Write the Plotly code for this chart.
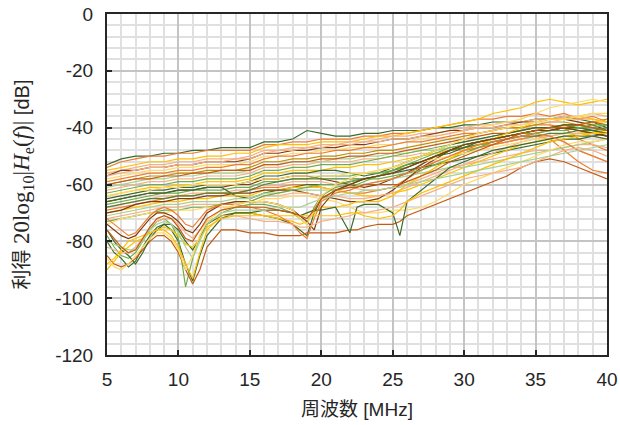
import plotly.graph_objects as go

FREQ = list(range(5, 41))
FREQ_L = [5, 5.5, 6, 6.5, 7, 7.5, 8, 8.5, 9, 9.5, 10, 10.5, 11, 11.5, 12, 13, 14, 15, 16, 17, 18,
          18.5, 19, 19.5, 20, 21, 22, 22.5, 23, 24, 25, 25.5, 26, 27, 28, 29, 30, 31, 32, 33, 34,
          35, 36, 37, 38, 39, 40]

X_TICKS = [5, 10, 15, 20, 25, 30, 35, 40]
Y_TICKS = [0, -20, -40, -60, -80, -100, -120]
Y_TICK_TEXT = ["0", "-20", "-40", "-60", "-80", "-100", "-120"]

# upper band
U1 = [-53,-51,-50,-50,-49,-49,-48,-48,-47,-47,-47,-45,-45,-44,-41,-42,-43,-43,-42,-42,-41,-41,-41,-40,-40,-39,-39,-38,-38,-38,-37,-37,-36,-37,-38,-40]
U2 = [-54,-52,-51,-50,-50,-49,-49,-48,-48,-48,-48,-46,-46,-45,-45,-44,-44,-44,-43,-43,-42,-42,-41,-40,-39,-38,-37,-37,-36,-36,-35,-36,-35,-37,-36,-38]
U3 = [-55,-54,-53,-52,-52,-51,-51,-50,-50,-49,-49,-47,-46,-46,-46,-45,-45,-45,-44,-43,-43,-42,-41,-40,-39,-38,-37,-35,-34,-33,-31,-30,-31,-32,-31,-30]
U4 = [-56,-55,-54,-53,-53,-52,-52,-51,-51,-51,-50,-48,-48,-47,-47,-46,-46,-45,-45,-44,-43,-43,-42,-42,-41,-40,-39,-39,-38,-38,-37,-37,-36,-36,-35,-36]
U5 = [-57,-55,-55,-54,-54,-53,-53,-52,-52,-52,-51,-49,-49,-48,-48,-47,-47,-46,-46,-45,-44,-44,-43,-42,-41,-41,-40,-40,-39,-38,-38,-37,-37,-38,-39,-41]
U6 = [-58,-57,-56,-55,-55,-54,-54,-53,-53,-53,-52,-50,-50,-49,-49,-48,-48,-47,-47,-46,-46,-45,-44,-43,-42,-41,-40,-39,-38,-37,-35,-33,-32,-31,-30,-31]
U7 = [-59,-58,-57,-56,-56,-55,-55,-54,-54,-53,-53,-51,-50,-50,-49,-49,-48,-48,-47,-47,-46,-45,-45,-44,-43,-42,-42,-41,-40,-40,-39,-39,-40,-44,-46,-48]
U8 = [-60,-59,-58,-57,-57,-56,-56,-55,-55,-55,-54,-52,-52,-51,-51,-50,-50,-49,-49,-48,-48,-47,-46,-45,-44,-43,-42,-41,-40,-40,-39,-38,-38,-39,-38,-37]
U9 = [-61,-60,-59,-58,-58,-57,-57,-56,-56,-56,-55,-53,-53,-52,-52,-52,-51,-51,-50,-50,-49,-49,-48,-48,-47,-47,-46,-46,-45,-44,-43,-43,-42,-42,-41,-41]
U10 = [-62,-61,-60,-59,-59,-58,-58,-57,-57,-57,-56,-54,-54,-53,-53,-52,-52,-52,-51,-51,-50,-50,-49,-49,-48,-48,-47,-46,-45,-44,-43,-43,-45,-48,-50,-52]
U11 = [-63,-62,-61,-60,-60,-59,-59,-58,-58,-58,-57,-55,-55,-54,-54,-53,-53,-53,-52,-51,-50,-49,-48,-47,-46,-45,-44,-43,-42,-41,-40,-40,-39,-40,-40,-41]
U12 = [-64,-63,-62,-61,-61,-60,-60,-59,-59,-59,-58,-56,-56,-55,-55,-55,-54,-54,-53,-53,-52,-51,-50,-49,-48,-46,-45,-44,-43,-42,-41,-40,-39,-39,-38,-38]
U13 = [-57,-56,-55,-54,-54,-53,-53,-52,-52,-51,-51,-49,-48,-48,-47,-47,-46,-46,-45,-45,-44,-44,-43,-43,-42,-41,-40,-40,-39,-39,-38,-38,-37,-37,-37,-38]
U14 = [-60,-59,-58,-58,-57,-57,-56,-56,-55,-55,-55,-53,-53,-52,-52,-51,-51,-50,-50,-49,-49,-48,-47,-46,-45,-44,-43,-42,-42,-41,-40,-40,-39,-39,-38,-39]

# middle band
M1 = [-65,-64,-63,-62,-62,-61,-61,-60,-60,-60,-59,-57,-57,-56,-56,-55,-55,-56,-57,-56,-54,-52,-50,-48,-46,-45,-44,-43,-42,-41,-40,-40,-39,-39,-40,-41]
M2 = [-66,-65,-64,-63,-63,-62,-62,-61,-61,-60,-60,-58,-58,-57,-57,-58,-59,-60,-61,-60,-58,-56,-53,-50,-48,-46,-45,-44,-43,-42,-41,-41,-40,-40,-41,-42]
M3 = [-67,-66,-65,-64,-63,-63,-62,-62,-62,-61,-61,-59,-59,-58,-58,-57,-57,-57,-56,-56,-55,-54,-52,-50,-48,-47,-46,-45,-44,-43,-42,-41,-41,-40,-40,-39]
M4 = [-68,-67,-66,-65,-64,-64,-63,-63,-63,-62,-62,-60,-60,-59,-59,-59,-60,-61,-62,-62,-61,-60,-58,-56,-54,-53,-52,-51,-50,-49,-48,-48,-47,-46,-46,-47]
M5 = [-69,-68,-67,-66,-65,-64,-64,-63,-63,-63,-62,-61,-61,-60,-60,-61,-62,-63,-63,-62,-61,-58,-55,-52,-50,-48,-47,-46,-45,-44,-43,-44,-48,-52,-55,-56]
M6 = [-66,-65,-64,-63,-63,-62,-62,-61,-61,-64,-65,-63,-62,-61,-60,-60,-60,-59,-58,-57,-56,-55,-54,-53,-52,-51,-50,-49,-48,-47,-46,-45,-44,-44,-43,-42]
M7 = [-70,-69,-68,-67,-66,-66,-65,-65,-64,-64,-64,-62,-62,-61,-61,-61,-62,-63,-64,-64,-63,-62,-60,-58,-56,-54,-52,-50,-48,-46,-45,-44,-43,-42,-42,-41]
M8 = [-71,-70,-69,-68,-67,-67,-66,-66,-66,-65,-65,-63,-63,-62,-62,-62,-62,-61,-60,-59,-58,-57,-56,-55,-54,-54,-53,-52,-51,-50,-49,-48,-47,-46,-45,-44]
M9 = [-70,-69,-67,-66,-66,-65,-65,-64,-64,-63,-63,-62,-62,-62,-63,-64,-65,-66,-66,-65,-62,-58,-54,-51,-48,-46,-45,-44,-43,-42,-41,-41,-40,-41,-42,-43]
M10 = [-72,-71,-70,-69,-68,-68,-67,-67,-67,-66,-66,-64,-64,-63,-63,-64,-64,-65,-65,-64,-63,-61,-59,-57,-55,-53,-51,-49,-47,-45,-44,-43,-42,-42,-43,-44]
M11 = [-73,-72,-71,-70,-69,-69,-68,-68,-67,-67,-66,-64,-63,-62,-61,-60,-60,-59,-58,-58,-57,-56,-55,-53,-51,-49,-47,-45,-44,-43,-42,-41,-41,-40,-39,-39]
M12 = [-74,-72,-71,-70,-70,-69,-69,-68,-68,-68,-67,-65,-65,-64,-64,-65,-66,-68,-70,-70,-69,-69,-68,-66,-63,-60,-58,-56,-54,-52,-50,-48,-46,-45,-45,-44]
M13 = [-64,-63,-62,-62,-61,-61,-60,-60,-60,-60,-59,-58,-58,-57,-57,-57,-57,-56,-56,-55,-54,-53,-52,-51,-50,-49,-48,-47,-46,-45,-44,-44,-43,-43,-42,-42]
M14 = [-68,-67,-66,-65,-65,-64,-64,-63,-63,-63,-62,-60,-59,-58,-58,-58,-58,-58,-58,-57,-56,-54,-52,-50,-48,-47,-46,-45,-44,-43,-43,-42,-42,-41,-41,-40]

# lower band (finer frequency grid)
L1 = [-80,-84,-86,-89,-87,-82,-78,-75,-74,-76,-80,-88,-94,-85,-78,-72,-70,-70,-71,-72,-74,-76,-78,-70,-65,-62,-60,-59,-58,-57,-55,-54,-53,-52,-50,-49,-47,-45,-44,-43,-42,-41,-41,-40,-40,-41,-42]
L2 = [-78,-82,-85,-86,-84,-80,-76,-73,-72,-74,-79,-96,-86,-78,-74,-70,-68,-67,-67,-68,-70,-72,-74,-68,-64,-61,-60,-60,-59,-57,-55,-54,-53,-51,-49,-47,-46,-45,-44,-43,-42,-42,-41,-41,-40,-40,-41]
L3 = [-85,-88,-89,-88,-86,-83,-80,-78,-78,-80,-84,-90,-95,-90,-82,-76,-76,-77,-77,-78,-78,-78,-77,-77,-77,-77,-76,-76,-75,-74,-74,-73,-71,-69,-67,-65,-63,-61,-59,-57,-54,-52,-51,-52,-54,-56,-58]
L4 = [-90,-87,-84,-82,-80,-79,-77,-76,-76,-78,-82,-88,-93,-84,-76,-71,-70,-70,-71,-72,-73,-74,-73,-70,-68,-68,-67,-66,-66,-66,-64,-62,-60,-57,-54,-51,-48,-46,-44,-42,-40,-38,-37,-37,-36,-37,-38]
L5 = [-76,-80,-83,-85,-88,-84,-79,-76,-74,-74,-76,-80,-83,-79,-74,-71,-70,-70,-69,-69,-70,-71,-70,-69,-69,-68,-77,-68,-67,-67,-70,-78,-66,-62,-58,-54,-52,-50,-48,-47,-46,-45,-44,-43,-43,-43,-44]
L6 = [-74,-76,-78,-79,-78,-75,-72,-70,-70,-71,-73,-76,-77,-74,-70,-67,-66,-66,-66,-67,-69,-71,-73,-76,-68,-62,-60,-59,-58,-57,-56,-55,-54,-52,-50,-48,-46,-45,-44,-43,-42,-41,-41,-40,-41,-42,-43]
L7 = [-72,-74,-76,-78,-77,-74,-71,-69,-68,-69,-71,-74,-75,-72,-69,-67,-67,-68,-69,-71,-74,-77,-79,-72,-66,-63,-62,-61,-60,-59,-58,-57,-56,-54,-52,-50,-48,-46,-45,-44,-43,-42,-43,-45,-48,-50,-52]
L8 = [-82,-83,-84,-84,-82,-79,-75,-73,-72,-72,-74,-77,-79,-76,-73,-71,-71,-72,-73,-73,-74,-75,-75,-74,-73,-72,-71,-70,-70,-69,-68,-67,-66,-64,-62,-60,-58,-57,-56,-55,-54,-52,-50,-48,-47,-48,-50]
L9 = [-88,-86,-83,-80,-79,-78,-77,-76,-75,-76,-78,-81,-82,-79,-75,-72,-71,-71,-71,-71,-71,-71,-71,-71,-71,-71,-70,-70,-71,-72,-71,-69,-66,-63,-61,-59,-57,-55,-53,-51,-49,-47,-45,-44,-43,-42,-42]
L10 = [-80,-81,-82,-83,-83,-80,-76,-74,-73,-74,-77,-82,-86,-80,-74,-70,-69,-69,-69,-68,-68,-68,-67,-66,-65,-64,-63,-63,-62,-62,-61,-61,-60,-59,-58,-57,-56,-55,-54,-53,-52,-51,-50,-49,-48,-47,-46]
L11 = [-86,-89,-90,-88,-85,-82,-79,-77,-77,-79,-83,-90,-85,-78,-73,-69,-67,-66,-66,-67,-69,-72,-74,-69,-64,-60,-58,-57,-56,-55,-54,-53,-52,-50,-48,-46,-44,-42,-41,-40,-39,-38,-37,-37,-36,-35,-35]
L12 = [-76,-79,-82,-84,-83,-79,-75,-72,-71,-72,-75,-79,-80,-76,-72,-69,-68,-68,-68,-69,-70,-71,-72,-69,-65,-62,-61,-61,-60,-60,-60,-60,-59,-57,-55,-52,-50,-48,-46,-44,-42,-41,-40,-40,-39,-40,-41]

DKGREEN = "#3d6b2a"
GREEN = "#70ad47"
LTGREEN = "#a9d18e"
ORANGE = "#ed7d31"
DKORANGE = "#c55a11"
BROWN = "#843c0c"
LTORANGE = "#f4b183"
GOLD = "#ffc000"
LTGOLD = "#ffd966"
DKGOLD = "#bf9000"

series = [
    (FREQ, U1, DKGREEN), (FREQ, U2, ORANGE), (FREQ, U3, GOLD), (FREQ, U4, LTORANGE),
    (FREQ, U5, BROWN), (FREQ, U6, LTGOLD), (FREQ, U7, ORANGE), (FREQ, U8, DKGOLD),
    (FREQ, U9, LTGREEN), (FREQ, U10, LTORANGE), (FREQ, U11, GREEN), (FREQ, U12, GOLD),
    (FREQ, U13, LTORANGE), (FREQ, U14, DKORANGE),
    (FREQ, M1, DKGREEN), (FREQ, M2, BROWN), (FREQ, M3, GREEN), (FREQ, M4, LTORANGE),
    (FREQ, M5, ORANGE), (FREQ, M6, DKGREEN), (FREQ, M7, GOLD), (FREQ, M8, LTGREEN),
    (FREQ, M9, BROWN), (FREQ, M10, LTORANGE), (FREQ, M11, GREEN), (FREQ, M12, LTGOLD),
    (FREQ, M13, LTGOLD), (FREQ, M14, "#548235"),
    (FREQ_L, L1, DKGREEN), (FREQ_L, L2, GREEN), (FREQ_L, L3, DKORANGE), (FREQ_L, L4, GOLD),
    (FREQ_L, L5, DKGREEN), (FREQ_L, L6, BROWN), (FREQ_L, L7, ORANGE), (FREQ_L, L8, LTORANGE),
    (FREQ_L, L9, GOLD), (FREQ_L, L10, LTGREEN), (FREQ_L, L11, LTGOLD), (FREQ_L, L12, DKORANGE),
]

fig = go.Figure()
for xs, ys, col in series:
    fig.add_trace(go.Scatter(x=xs, y=ys, mode="lines", line=dict(color=col, width=1.2),
                             showlegend=False, hoverinfo="skip"))

FONT = "Liberation Sans, Arial, Noto Sans CJK JP, sans-serif"
SERIF = "Liberation Serif, DejaVu Serif, serif"
axis_common = dict(
    showline=True, linecolor="#262626", linewidth=2, mirror=True,
    ticks="inside", ticklen=5, tickcolor="#262626", tickwidth=1.5,
    showgrid=True, gridcolor="#c4c4c4", gridwidth=1.5,
    zeroline=False, automargin=False,
    tickfont=dict(family=FONT, size=19, color="#262626"),
)

fig.update_xaxes(range=[5, 40], tickvals=X_TICKS, ticktext=[str(v) for v in X_TICKS],
                 ticklabelstandoff=6,
                 minor=dict(dtick=1, showgrid=True, gridcolor="#e0e0e0", gridwidth=1.5),
                 title=dict(text="周波数 [MHz]", font=dict(family=FONT, size=19, color="#262626"), standoff=14),
                 **axis_common)

y_title = ("利得 <span style=\"font-family:%s;font-size:23px\">20log<sub>10</sub>|<i>H</i><sub>e</sub>(<i>f</i>)|</span> [dB]" % SERIF)
fig.update_yaxes(range=[-120, 0], tickvals=Y_TICKS, ticktext=Y_TICK_TEXT,
                 ticklabelstandoff=8,
                 minor=dict(dtick=4, showgrid=True, gridcolor="#e0e0e0", gridwidth=1.5),
                 title=dict(text=y_title, font=dict(family=FONT, size=20, color="#262626"), standoff=20),
                 **axis_common)

fig.update_layout(
    width=620, height=425,
    margin=dict(l=107, r=13, t=14, b=70),
    paper_bgcolor="white", plot_bgcolor="white",
    font=dict(family=FONT),
)

fig.write_html("out.html")
